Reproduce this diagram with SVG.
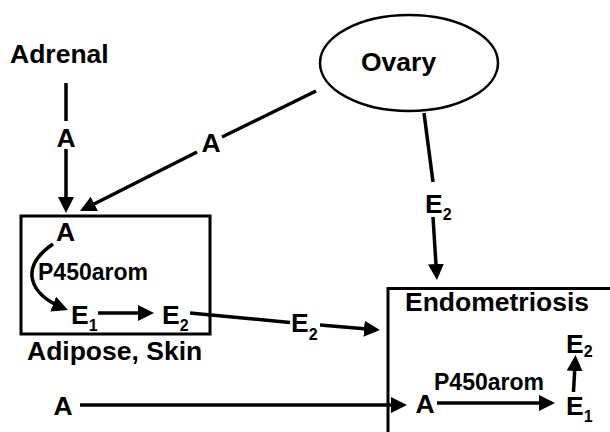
<svg xmlns="http://www.w3.org/2000/svg" width="610" height="432" viewBox="0 0 610 432">
  <style>
    text { font-family: "Liberation Sans", Arial, sans-serif; font-weight: bold; fill: #000; }
    .big { font-size: 26.5px; }
    .enz { font-size: 23px; }
    .sub { font-size: 16px; }
    .edge { fill: none; stroke: #000; stroke-width: 3.5; }
    .arr { marker-end: url(#head); }
    .box { fill: none; stroke: #000; stroke-width: 3; }
  </style>
  <defs>
    <marker id="head" markerUnits="userSpaceOnUse" markerWidth="16" markerHeight="16" refX="12" refY="8" orient="auto">
      <path d="M0,0 L16,8 L0,16 Z" fill="#000"/>
    </marker>
  </defs>
  <rect width="610" height="432" fill="#fff"/>

  <!-- source organs -->
  <g id="adrenal">
    <text class="big" x="10" y="63">Adrenal</text>
  </g>
  <g id="ovary">
    <ellipse cx="409" cy="63" rx="89" ry="48" fill="none" stroke="#000" stroke-width="2.5"/>
    <text class="big" x="361" y="71">Ovary</text>
  </g>

  <!-- peripheral aromatization -->
  <g id="adipose-skin">
    <rect class="box" x="21" y="216" width="189" height="118"/>
    <text class="big" x="65.5" y="241" text-anchor="middle">A</text>
    <text class="enz" x="38" y="280">P450arom</text>
    <text class="big" x="71" y="324">E<tspan class="sub" dy="7">1</tspan></text>
    <text class="big" x="162" y="324">E<tspan class="sub" dy="7">2</tspan></text>
    <text class="big" x="27" y="360">Adipose, Skin</text>
  </g>

  <!-- lesion -->
  <g id="endometriosis">
    <path class="box" d="M610,288.5 H388 V432"/>
    <text class="big" x="405" y="311">Endometriosis</text>
    <text class="big" x="425" y="413" text-anchor="middle">A</text>
    <text class="enz" x="434" y="390">P450arom</text>
    <text class="big" x="566" y="415">E<tspan class="sub" dy="6.5">1</tspan></text>
    <text class="big" x="566" y="353">E<tspan class="sub" dy="3.5">2</tspan></text>
  </g>

  <!-- flows -->
  <g id="connectors">
    <!-- adrenal androgen -->
    <line class="edge" x1="66" y1="83" x2="66" y2="121"/>
    <text class="big" x="66" y="147" text-anchor="middle">A</text>
    <line class="edge arr" x1="66" y1="149" x2="66" y2="209"/>

    <!-- ovarian androgen -->
    <line class="edge" x1="316" y1="91" x2="222" y2="137"/>
    <text class="big" x="211" y="152" text-anchor="middle">A</text>
    <line class="edge arr" x1="197" y1="152" x2="83.6" y2="209.2"/>

    <!-- ovarian estradiol -->
    <line class="edge" x1="424" y1="113" x2="433" y2="182"/>
    <text class="big" x="425" y="213">E<tspan class="sub" dy="7">2</tspan></text>
    <line class="edge arr" x1="433" y1="217" x2="436.7" y2="276"/>

    <!-- aromatization in adipose/skin -->
    <path class="edge arr" d="M53,244 C18,268 30,295 64.3,308.5"/>
    <line class="edge arr" x1="98" y1="313" x2="150" y2="313"/>

    <!-- peripheral estradiol to lesion -->
    <line class="edge" x1="190" y1="313" x2="290" y2="322.5"/>
    <text class="big" x="291" y="332">E<tspan class="sub" dy="8">2</tspan></text>
    <line class="edge arr" x1="320" y1="325" x2="376" y2="329.7"/>

    <!-- circulating androgen to lesion -->
    <text class="big" x="63" y="415" text-anchor="middle">A</text>
    <line class="edge arr" x1="80" y1="405" x2="403" y2="405"/>

    <!-- local aromatization -->
    <line class="edge arr" x1="437" y1="403" x2="551" y2="403"/>
    <line class="edge arr" x1="573.5" y1="392" x2="575.3" y2="359"/>
  </g>
</svg>
